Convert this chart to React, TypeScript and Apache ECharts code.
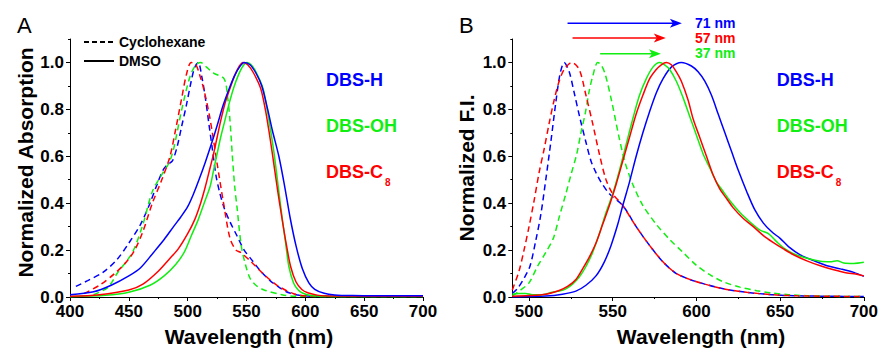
import React, { useEffect, useRef } from 'react';
import * as echarts from 'echarts';

const BLUE = '#0000ff';
const GREEN = '#11ee11';
const RED = '#ff0000';
const FONT = 'Liberation Sans, Arial, Helvetica, sans-serif';

// Panel A: absorption (nm, normalized)
const absHCy: [number, number][] = [[405,0.045],[415,0.07],[428,0.105],[440,0.16],[450,0.23],[460,0.31],[468,0.4],[474,0.48],[479,0.54],[483,0.565],[487,0.58],[491,0.64],[495,0.73],[499,0.82],[503,0.92],[506,0.98],[509,1.0],[512,0.94],[515,0.85],[518,0.74],[521,0.63],[524,0.52],[527,0.45],[531,0.38],[536,0.32],[542,0.26],[548,0.2],[555,0.155],[562,0.11],[570,0.07],[578,0.04],[586,0.018],[595,0.007],[610,0.003],[700,0.003]];
const absOHCy: [number, number][] = [[420,0.01],[432,0.04],[440,0.1],[453,0.19],[462,0.31],[470,0.45],[479,0.53],[484,0.57],[488,0.63],[495,0.8],[502,0.94],[507,0.99],[511,1.0],[516,0.98],[522,0.955],[531,0.93],[534,0.85],[536,0.75],[538,0.6],[540,0.47],[542,0.38],[545.5,0.22],[549,0.14],[553,0.08],[558,0.05],[565,0.03],[580,0.01],[590,0.003],[700,0.002]];
const absC8Cy: [number, number][] = [[412,0.015],[425,0.05],[438,0.1],[448,0.15],[455,0.2],[462,0.28],[470,0.4],[478,0.5],[485,0.6],[490,0.72],[495,0.85],[499,0.95],[503,1.0],[507,0.99],[510,0.95],[514,0.88],[519,0.76],[525,0.57],[530.5,0.4],[536,0.25],[541,0.2],[545,0.19],[553,0.155],[564,0.1],[576,0.05],[590,0.014],[604,0.004],[700,0.003]];
const absHDmso: [number, number][] = [[400,0.01],[420,0.022],[435,0.05],[450,0.09],[460,0.125],[471,0.19],[480,0.245],[488,0.3],[494,0.34],[500,0.385],[505,0.44],[510,0.505],[515,0.575],[520,0.65],[525,0.73],[530,0.815],[535,0.885],[540,0.945],[544,0.98],[548,1.0],[553,0.99],[558,0.955],[563,0.9],[568,0.8],[572,0.71],[577.5,0.6],[582.5,0.47],[587,0.34],[592,0.22],[597.5,0.12],[603,0.06],[608,0.033],[616,0.016],[625,0.009],[640,0.006],[660,0.005],[700,0.005]];
const absOHDmso: [number, number][] = [[400,0.001],[430,0.007],[450,0.02],[468,0.05],[480,0.09],[490,0.14],[497,0.19],[503,0.26],[509,0.33],[514,0.4],[519,0.47],[522,0.54],[525,0.61],[528,0.68],[531.5,0.75],[535,0.82],[539,0.89],[543,0.945],[547,0.985],[550.5,1.0],[554,0.99],[558,0.96],[564,0.89],[567.5,0.8],[570.5,0.71],[573.5,0.61],[577,0.47],[580.5,0.33],[583.5,0.22],[586,0.13],[590,0.06],[594,0.03],[598,0.016],[605,0.006],[620,0.002],[700,0.002]];
const absC8Dmso: [number, number][] = [[400,0.003],[425,0.01],[450,0.03],[462,0.055],[475,0.11],[485,0.165],[492,0.205],[500,0.27],[506,0.33],[511,0.4],[515,0.47],[519,0.55],[522,0.61],[525,0.68],[528,0.75],[532,0.83],[536,0.89],[540,0.945],[544,0.985],[547,1.0],[551,0.99],[556,0.955],[562,0.89],[566,0.8],[569,0.71],[572,0.61],[576,0.47],[580,0.34],[584,0.22],[587.5,0.13],[592,0.065],[597,0.032],[602,0.018],[610,0.008],[620,0.004],[700,0.003]];

// Panel B: fluorescence (nm, normalized)
const emHCy: [number, number][] = [[490,0.015],[493,0.035],[497,0.08],[500.5,0.13],[504,0.24],[507,0.35],[510,0.5],[513,0.66],[516,0.83],[518.5,0.95],[521,1.0],[524,0.96],[527,0.87],[530.5,0.76],[534,0.66],[537,0.58],[540,0.53],[543,0.49],[548,0.44],[556,0.39],[564,0.3],[572,0.22],[580,0.15],[588,0.1],[596,0.075],[605,0.055],[616,0.035],[630,0.02],[645,0.01],[660,0.005],[700,0.002]];
const emOHCy: [number, number][] = [[490,0.005],[495,0.03],[500,0.06],[505,0.13],[510,0.19],[514.5,0.25],[518,0.34],[522,0.44],[525,0.52],[528.5,0.61],[531,0.7],[533.5,0.78],[536,0.88],[538,0.94],[541,1.0],[543,0.99],[545.5,0.95],[549.5,0.83],[553.5,0.69],[557.5,0.57],[562,0.48],[568,0.39],[576,0.31],[584,0.245],[592,0.19],[600,0.135],[608,0.095],[616,0.065],[626,0.042],[636,0.027],[645,0.017],[655,0.01],[665,0.006],[680,0.003],[700,0.002]];
const emC8Cy: [number, number][] = [[490,0.03],[494,0.11],[497,0.2],[500,0.3],[503,0.41],[506,0.53],[509,0.63],[512,0.74],[515,0.84],[518,0.92],[521,0.97],[525.5,1.0],[530,0.97],[534,0.86],[538,0.74],[542,0.61],[546,0.5],[550,0.44],[556,0.39],[564,0.3],[572,0.22],[580,0.15],[588,0.1],[596,0.075],[605,0.055],[616,0.035],[630,0.02],[645,0.01],[660,0.005],[700,0.002]];
const emHDmso: [number, number][] = [[490,0.0],[510,0.004],[520,0.012],[528,0.025],[534,0.05],[540,0.09],[545,0.15],[549,0.22],[553,0.31],[556,0.39],[560,0.49],[564,0.6],[568,0.7],[572,0.79],[576,0.87],[580,0.93],[585,0.98],[591,1.0],[597,0.985],[601,0.96],[605,0.92],[609,0.86],[613,0.78],[617,0.7],[621,0.62],[625,0.54],[630,0.45],[635,0.37],[640,0.315],[645,0.278],[650,0.25],[655,0.215],[662,0.18],[670,0.155],[678,0.133],[686,0.12],[694,0.105],[700,0.088]];
const emOHDmso: [number, number][] = [[490,0.012],[494,0.015],[498,0.015],[502,0.01],[508,0.01],[514,0.02],[518,0.025],[522,0.035],[526,0.055],[530,0.085],[534,0.13],[538,0.19],[542,0.27],[546,0.36],[550,0.44],[554,0.54],[558,0.65],[562,0.76],[566,0.86],[570,0.93],[574,0.98],[578,1.0],[581,0.99],[584,0.97],[588,0.92],[592,0.85],[596,0.77],[600,0.69],[604,0.61],[608,0.55],[612,0.49],[616,0.45],[620,0.41],[626,0.36],[632,0.32],[638,0.285],[643,0.27],[648,0.235],[652,0.21],[658,0.185],[666,0.165],[674,0.152],[680,0.15],[684,0.155],[688,0.145],[694,0.143],[700,0.148]];
const emC8Dmso: [number, number][] = [[490,0.003],[500,0.006],[510,0.012],[518,0.028],[523,0.045],[528,0.075],[532,0.12],[536,0.17],[540,0.23],[544,0.31],[548,0.39],[552,0.48],[556,0.58],[560,0.68],[564,0.78],[568,0.86],[572,0.93],[576,0.97],[579,0.99],[582,1.0],[585,0.99],[588,0.96],[591,0.92],[595,0.84],[598,0.76],[602,0.68],[606,0.6],[610,0.52],[614,0.46],[618,0.42],[622,0.38],[628,0.335],[634,0.3],[640,0.262],[646,0.232],[652,0.205],[658,0.18],[666,0.154],[674,0.133],[682,0.116],[690,0.102],[695,0.098],[700,0.09]];

// Stokes-shift arrows (panel B): start nm, tip nm, height
const shiftLabels = ['71 nm', '57 nm', '37 nm'];
const shiftColors = [BLUE, RED, GREEN];
const arrowStart = [523, 526, 542.5];
const arrowEnd = [591.3, 581.7, 578.8];
const arrowY = [1.167, 1.104, 1.037];

// Ticks
const xTicksA = [400, 450, 500, 550, 600, 650, 700];
const xMinorA = [400, 425, 450, 475, 500, 525, 550, 575, 600, 625, 650, 675, 700];
const xTicksB = [500, 550, 600, 650, 700];
const xMinorB = [500, 525, 550, 575, 600, 625, 650, 675, 700];
const yTicks = [0, 0.2, 0.4, 0.6, 0.8, 1.0];
const yMinor = [0, 0.1, 0.2, 0.3, 0.4, 0.5, 0.6, 0.7, 0.8, 0.9, 1.0, 1.1];

const compounds = ['DBS-H', 'DBS-OH', 'DBS-C'];

export default function App() {
  const ref = useRef<HTMLDivElement>(null);
  useEffect(() => {
    document.body.style.margin = '0';
    if (!ref.current) return;
    const chart = echarts.init(ref.current, undefined, { renderer: 'svg' });
    const black = '#000';
    const labelStyle = { color: black, fontSize: 17, fontWeight: 'bold' as const, fontFamily: FONT };
    const nameStyle = { color: black, fontSize: 21, fontWeight: 'bold' as const, fontFamily: FONT };

    const mainX = (grid: number, min: number, ticks: number[], pad: number) => ({
      type: 'value', gridIndex: grid, min, max: 700, position: 'bottom',
      axisLine: { show: true, onZero: false, lineStyle: { color: black, width: 1 } },
      axisTick: { show: true, length: 4, customValues: ticks, lineStyle: { color: black } },
      axisLabel: { ...labelStyle, margin: 6, customValues: ticks },
      splitLine: { show: false },
      name: 'Wavelength (nm)', nameLocation: 'middle', nameGap: 29,
      nameTextStyle: { ...nameStyle, padding: [0, 0, 0, pad] },
    });
    const minorX = (grid: number, min: number, ticks: number[]) => ({
      type: 'value', gridIndex: grid, min, max: 700, position: 'bottom',
      axisLine: { show: false, onZero: false },
      axisTick: { show: true, length: 2, customValues: ticks, lineStyle: { color: black } },
      axisLabel: { show: false }, splitLine: { show: false },
    });
    const mainY = (grid: number, name: string, gap: number, pad: number) => ({
      type: 'value', gridIndex: grid, min: 0, max: 1.1, position: 'left',
      axisLine: { show: true, onZero: false, lineStyle: { color: black, width: 1 } },
      axisTick: { show: true, length: 4, customValues: yTicks, lineStyle: { color: black } },
      axisLabel: { ...labelStyle, margin: 6, customValues: yTicks, formatter: (v: number) => v.toFixed(1) },
      splitLine: { show: false },
      name, nameLocation: 'middle', nameGap: gap,
      nameTextStyle: { ...nameStyle, padding: [0, 0, 0, pad] },
    });
    const minorY = (grid: number) => ({
      type: 'value', gridIndex: grid, min: 0, max: 1.1, position: 'left',
      axisLine: { show: false, onZero: false },
      axisTick: { show: true, length: 2, customValues: yMinor, lineStyle: { color: black } },
      axisLabel: { show: false }, splitLine: { show: false },
    });

    const curve = (data: [number, number][], color: string, dashed: boolean, xi: number, yi: number) => ({
      type: 'line', data, xAxisIndex: xi, yAxisIndex: yi, showSymbol: false, symbol: 'none',
      smooth: 0.3, silent: true,
      lineStyle: { color, width: 1.5, type: dashed ? [6, 4] : 'solid' },
      itemStyle: { color },
    });

    const texts: any[] = [
      { type: 'text', x: 17, y: 25, style: { text: 'A', fontSize: 22, fontFamily: FONT, fill: black, verticalAlign: 'middle' } },
      { type: 'text', x: 459, y: 25, style: { text: 'B', fontSize: 22, fontFamily: FONT, fill: black, verticalAlign: 'middle' } },
    ];
    const labelColors = [BLUE, GREEN, RED];
    const labelY = [80, 126, 172];
    [326, 776.7].forEach((lx) => {
      compounds.forEach((c, i) => {
        texts.push({ type: 'text', x: lx, y: labelY[i], style: { text: c, fontSize: 18, fontWeight: 'bold', fontFamily: FONT, fill: labelColors[i], verticalAlign: 'middle' } });
      });
      texts.push({ type: 'text', x: lx + 59, y: 182, style: { text: '8', fontSize: 10, fontWeight: 'bold', fontFamily: FONT, fill: RED, verticalAlign: 'middle' } });
    });
    shiftLabels.forEach((t, i) => {
      texts.push({ type: 'text', x: 695, y: [23, 38, 53][i], style: { text: t, fontSize: 14, fontWeight: 'bold', fontFamily: FONT, fill: shiftColors[i], verticalAlign: 'middle' } });
    });

    const arrowData = arrowStart.map((s, i) => [s, arrowEnd[i], arrowY[i], i]);

    const option: any = {
      animation: false,
      backgroundColor: '#fff',
      textStyle: { fontFamily: FONT },
      grid: [
        { left: 70, top: 39, width: 353, height: 261, containLabel: false },
        { left: 512.3, top: 39, width: 352, height: 261, containLabel: false },
      ],
      xAxis: [mainX(0, 400, xTicksA, 5), minorX(0, 400, xMinorA), mainX(1, 490, xTicksB, 26), minorX(1, 490, xMinorB)],
      yAxis: [mainY(0, 'Normalized Absorption', 34, 11), minorY(0), mainY(1, 'Normalized F.I.', 35, 0), minorY(1)],
      legend: {
        show: true, data: ['Cyclohexane', 'DMSO'], orient: 'vertical', left: 83, top: 35, padding: 0,
        itemWidth: 30, itemHeight: 14, itemGap: 5, itemStyle: { opacity: 0 }, selectedMode: false,
        textStyle: { color: black, fontSize: 14, fontWeight: 'bold', fontFamily: FONT },
      },
      series: [
        { name: 'Cyclohexane', type: 'line', data: [], xAxisIndex: 0, yAxisIndex: 0, symbol: 'none', lineStyle: { color: black, width: 1.5, type: [5, 3] }, itemStyle: { color: 'rgba(0,0,0,0)', borderWidth: 0 } },
        { name: 'DMSO', type: 'line', data: [], xAxisIndex: 0, yAxisIndex: 0, symbol: 'none', lineStyle: { color: black, width: 1.5 }, itemStyle: { color: 'rgba(0,0,0,0)', borderWidth: 0 } },
        curve(absHCy, BLUE, true, 0, 0),
        curve(absOHCy, GREEN, true, 0, 0),
        curve(absC8Cy, RED, true, 0, 0),
        curve(absOHDmso, GREEN, false, 0, 0),
        curve(absC8Dmso, RED, false, 0, 0),
        curve(absHDmso, BLUE, false, 0, 0),
        curve(emHCy, BLUE, true, 2, 2),
        curve(emOHCy, GREEN, true, 2, 2),
        curve(emC8Cy, RED, true, 2, 2),
        curve(emHDmso, BLUE, false, 2, 2),
        curve(emOHDmso, GREEN, false, 2, 2),
        curve(emC8Dmso, RED, false, 2, 2),
        {
          type: 'custom', xAxisIndex: 2, yAxisIndex: 2, clip: false, silent: true,
          data: arrowData,
          encode: { x: [0, 1], y: 2 },
          renderItem: (params: any, api: any) => {
            const s = api.coord([api.value(0), api.value(2)]);
            const e = api.coord([api.value(1), api.value(2)]);
            const color = shiftColors[api.value(3)];
            return {
              type: 'group',
              children: [
                { type: 'line', shape: { x1: s[0], y1: s[1], x2: e[0] - 8, y2: e[1] }, style: { stroke: color, lineWidth: 1.5 } },
                { type: 'polygon', shape: { points: [[e[0], e[1]], [e[0] - 12, e[1] - 4.5], [e[0] - 9, e[1]], [e[0] - 12, e[1] + 4.5]] }, style: { fill: color } },
              ],
            };
          },
        },
      ],
      graphic: texts,
    };
    chart.setOption(option);
    return () => chart.dispose();
  }, []);
  return <div ref={ref} style={{ width: 881, height: 352 }} />;
}
